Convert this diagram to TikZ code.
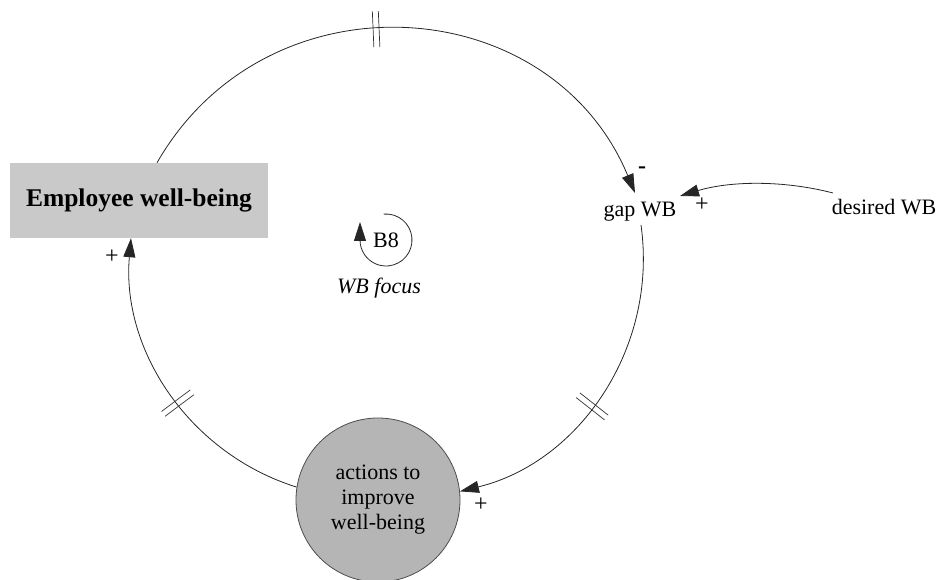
\documentclass[tikz,border=0pt]{standalone}
\usepackage{fontspec}
\setmainfont{Liberation Serif}
\usetikzlibrary{arrows.meta,decorations.markings}

\begin{document}
\begin{tikzpicture}[x=1pt,y=1pt,
  txt/.style={font=\fontsize{22}{25}\selectfont, inner sep=0pt},
  pol/.style={font=\fontsize{24}{26}\selectfont, inner sep=0pt},
  link/.style={draw=black!85, line width=0.8pt, -{Triangle[length=19pt,width=12pt]}},
  barline/.style={draw=black!80, line width=0.7pt, arrows=-},
  delaymark/.style={postaction={decorate, decoration={markings,
      mark=at position #1 with {\draw[barline] (-3,-18) -- (-3,18) (3,-18) -- (3,18);}}}},
  stockbox/.style={fill=black!21, minimum width=258pt, minimum height=75pt, inner sep=0pt,
      font=\fontsize{25.5}{28}\selectfont\bfseries},
  flowcircle/.style={circle, draw=black!70, line width=0.8pt, fill=black!29,
      minimum size=164pt, inner sep=0pt, align=center, font=\fontsize{22}{25}\selectfont}
]
\useasboundingbox (0,0) rectangle (937,580);

% variables
\node[stockbox] (emp) at (139,379.5) {Employee well-being};
\node[txt] (gap) at (640,368) {gap WB};
\node[txt] (des) at (884,373) {desired WB};
\node[flowcircle] (act) at (378,80) {actions to\\improve\\well-being};

% loop marker
\node[txt] (b8) at (386,340) {B8};
\node[txt] (focus) at (379,292) {\itshape WB focus};
\draw[link] ([shift={(95:26)}]b8.center) arc[start angle=95, end angle=-180, radius=26] -- ++(0,18);

% causal links
\draw[link, delaymark=268pt] ([xshift=18pt]emp.north)
  to[out=60.2, in=112.6, looseness=1.18] ([shift={(-5,19)}]gap.center);
\draw[link, delaymark=193pt] ([shift={(1,-13)}]gap.center)
  to[out=-82, in=13.7, looseness=0.98] (act.6);
\draw[link, delaymark=148pt] (act.171)
  to[out=162.6, in=265, looseness=0.96] ([xshift=-8pt]emp.south);
\draw[link] ([shift={(-51,14)}]des.center)
  to[out=165.5, in=16.7, looseness=0.87] ([shift={(40,16)}]gap.center);

% polarities
\node[pol] (pgap) at (642,410) {\textbf{-}};
\node[pol] (pdes) at (702,375) {+};
\node[pol] (pact) at (481,75) {+};
\node[pol] (pemp) at (112,323) {+};
\end{tikzpicture}
\end{document}
